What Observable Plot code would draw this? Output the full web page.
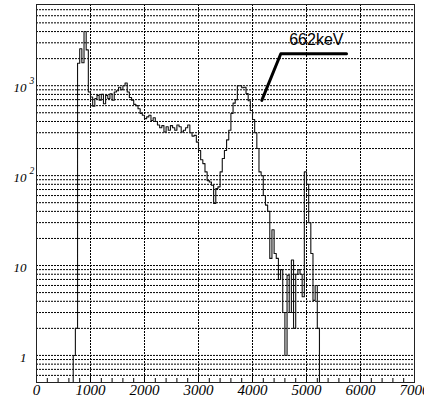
<!DOCTYPE html>
<html>
<head>
<meta charset="utf-8">
<script src="https://cdn.jsdelivr.net/npm/d3@7"></script>
<script src="https://cdn.jsdelivr.net/npm/@observablehq/plot@0.6"></script>
<style>
  html, body { margin: 0; padding: 0; background: #fff; }
</style>
</head>
<body>
<div id="chart"></div>
<script>
// Histogram: bin start, width, counts
const binStart = 680;
const binWidth = 40;
const counts = [
  1, 2, 1780, 2580, 1800, 4000, 2500, 850, 750, 590,
  720, 780, 690, 800, 630, 780, 720, 815, 690, 850,
  880, 960, 900, 1000, 1070, 850, 740, 690, 620, 600,
  555, 490, 470, 430, 450, 470, 410, 440, 400, 365,
  340, 360, 305, 350, 320, 360, 340, 320, 365, 350,
  305, 320, 340, 365, 300, 275, 280, 236, 190, 150,
  136, 110, 88, 85, 78, 49, 72, 75, 110, 155,
  190, 250, 320, 490, 640, 700, 1000, 1000, 950, 960,
  820, 680, 530, 420, 300, 200, 110, 100, 60, 47,
  40, 12, 25, 13.6, 12, 7, 9, 3, 1, 7.8,
  3, 11.5, 2, 8, 9, 8, 4.5, 110, 80, 30,
  13.6, 4.1, 6, 2
];

// Axes
const xDomain = [0, 7000];
const yDomain = [0.5, 8000];
const xTickLabels = [0, 1000, 2000, 3000, 4000, 5000, 6000, 7000];
const xGrid = [1000, 2000, 3000, 4000, 5000, 6000];
const xMinorStep = 200;
const yTickLabels = [
  {v: 1000, base: "10", exp: "3"},
  {v: 100, base: "10", exp: "2"},
  {v: 10, base: "10", exp: ""},
  {v: 1, base: "1", exp: ""}
];
const yGridMultipliers = [1, 2, 3, 4, 5, 6, 7, 8, 9];
const yGridDecades = [0.1, 1, 10, 100, 1000];

// Annotation
const annotationLine = [
  {x: 4172, y: 687},
  {x: 4524, y: 2268},
  {x: 5741, y: 2268}
];
const annotationText = [{x: 4680, y: 3200, label: "662keV"}];

// Derived tables
const histPoints = [{x: binStart, y: yDomain[0]}]
  .concat(counts.map((c, i) => ({x: binStart + i * binWidth, y: c})))
  .concat([{x: binStart + counts.length * binWidth, y: yDomain[0]}]);

const yGrid = [];
for (const d of yGridDecades) for (const m of yGridMultipliers) {
  const v = +(d * m).toPrecision(3);
  if (v >= yDomain[0] && v <= yDomain[1]) yGrid.push(v);
}
const xMinor = d3.range(xDomain[0], xDomain[1] + 1, xMinorStep);

const W = 424, H = 402;
const mTop = 4, mBottom = 20, mLeft = 36, mRight = 10;
const innerH = H - mTop - mBottom;

const serif = "'Liberation Serif', 'Times New Roman', serif";
const sans = "'Liberation Sans', Arial, sans-serif";

const chart = Plot.plot({
  width: W,
  height: H,
  marginTop: mTop,
  marginBottom: mBottom,
  marginLeft: mLeft,
  marginRight: mRight,
  x: {domain: xDomain, axis: null},
  y: {type: "log", domain: yDomain, axis: null},
  style: {background: "#fff"},
  marks: [
    Plot.ruleY(yGrid, {y: d => d, stroke: "#000", strokeWidth: 1, strokeDasharray: "2,1"}),
    Plot.ruleX(xGrid, {x: d => d, stroke: "#000", strokeWidth: 1, strokeDasharray: "2,1"}),
    Plot.ruleX(xMinor, {x: d => d, stroke: "#000", strokeWidth: 1, insetTop: innerH - 4}),
    Plot.line(histPoints, {x: "x", y: "y", curve: "step-after", stroke: "#111", strokeWidth: 1.1}),
    Plot.line(annotationLine, {x: "x", y: "y", stroke: "#000", strokeWidth: 3}),
    Plot.text(annotationText, {x: "x", y: "y", text: "label", textAnchor: "start", fontSize: 16, fontFamily: sans, fill: "#000", ariaLabel: "note"}),
    Plot.frame({stroke: "#222", strokeWidth: 1}),
    Plot.text(xTickLabels, {x: d => d, frameAnchor: "bottom", dy: 12, text: d => String(d), fontSize: 15, fontFamily: serif, fontStyle: "italic", fill: "#000", ariaLabel: "xlabels"}),
    Plot.text(yTickLabels, {y: "v", frameAnchor: "left", dx: -10, dy: 2, text: "base", textAnchor: "end", fontSize: 13, fontFamily: serif, fontStyle: "italic", fill: "#000", ariaLabel: "ylabels"}),
    Plot.text(yTickLabels, {y: "v", frameAnchor: "left", dx: -7, dy: -5, text: "exp", textAnchor: "start", fontSize: 9.5, fontFamily: serif, fontStyle: "italic", fill: "#000", ariaLabel: "yexp"})
  ]
});
document.getElementById("chart").appendChild(chart);

// Force fonts on the text marks
const svg = d3.select(chart);
svg.selectAll('g[aria-label="xlabels"] text')
  .style("font-family", serif).style("font-size", "15px").style("font-style", "italic");
svg.selectAll('g[aria-label="ylabels"] text')
  .style("font-family", serif).style("font-size", "13px").style("font-style", "italic");
svg.selectAll('g[aria-label="yexp"] text')
  .style("font-family", serif).style("font-size", "9.5px").style("font-style", "italic");
svg.selectAll('g[aria-label="note"] text')
  .style("font-family", sans).style("font-size", "16px");
</script>
</body>
</html>
